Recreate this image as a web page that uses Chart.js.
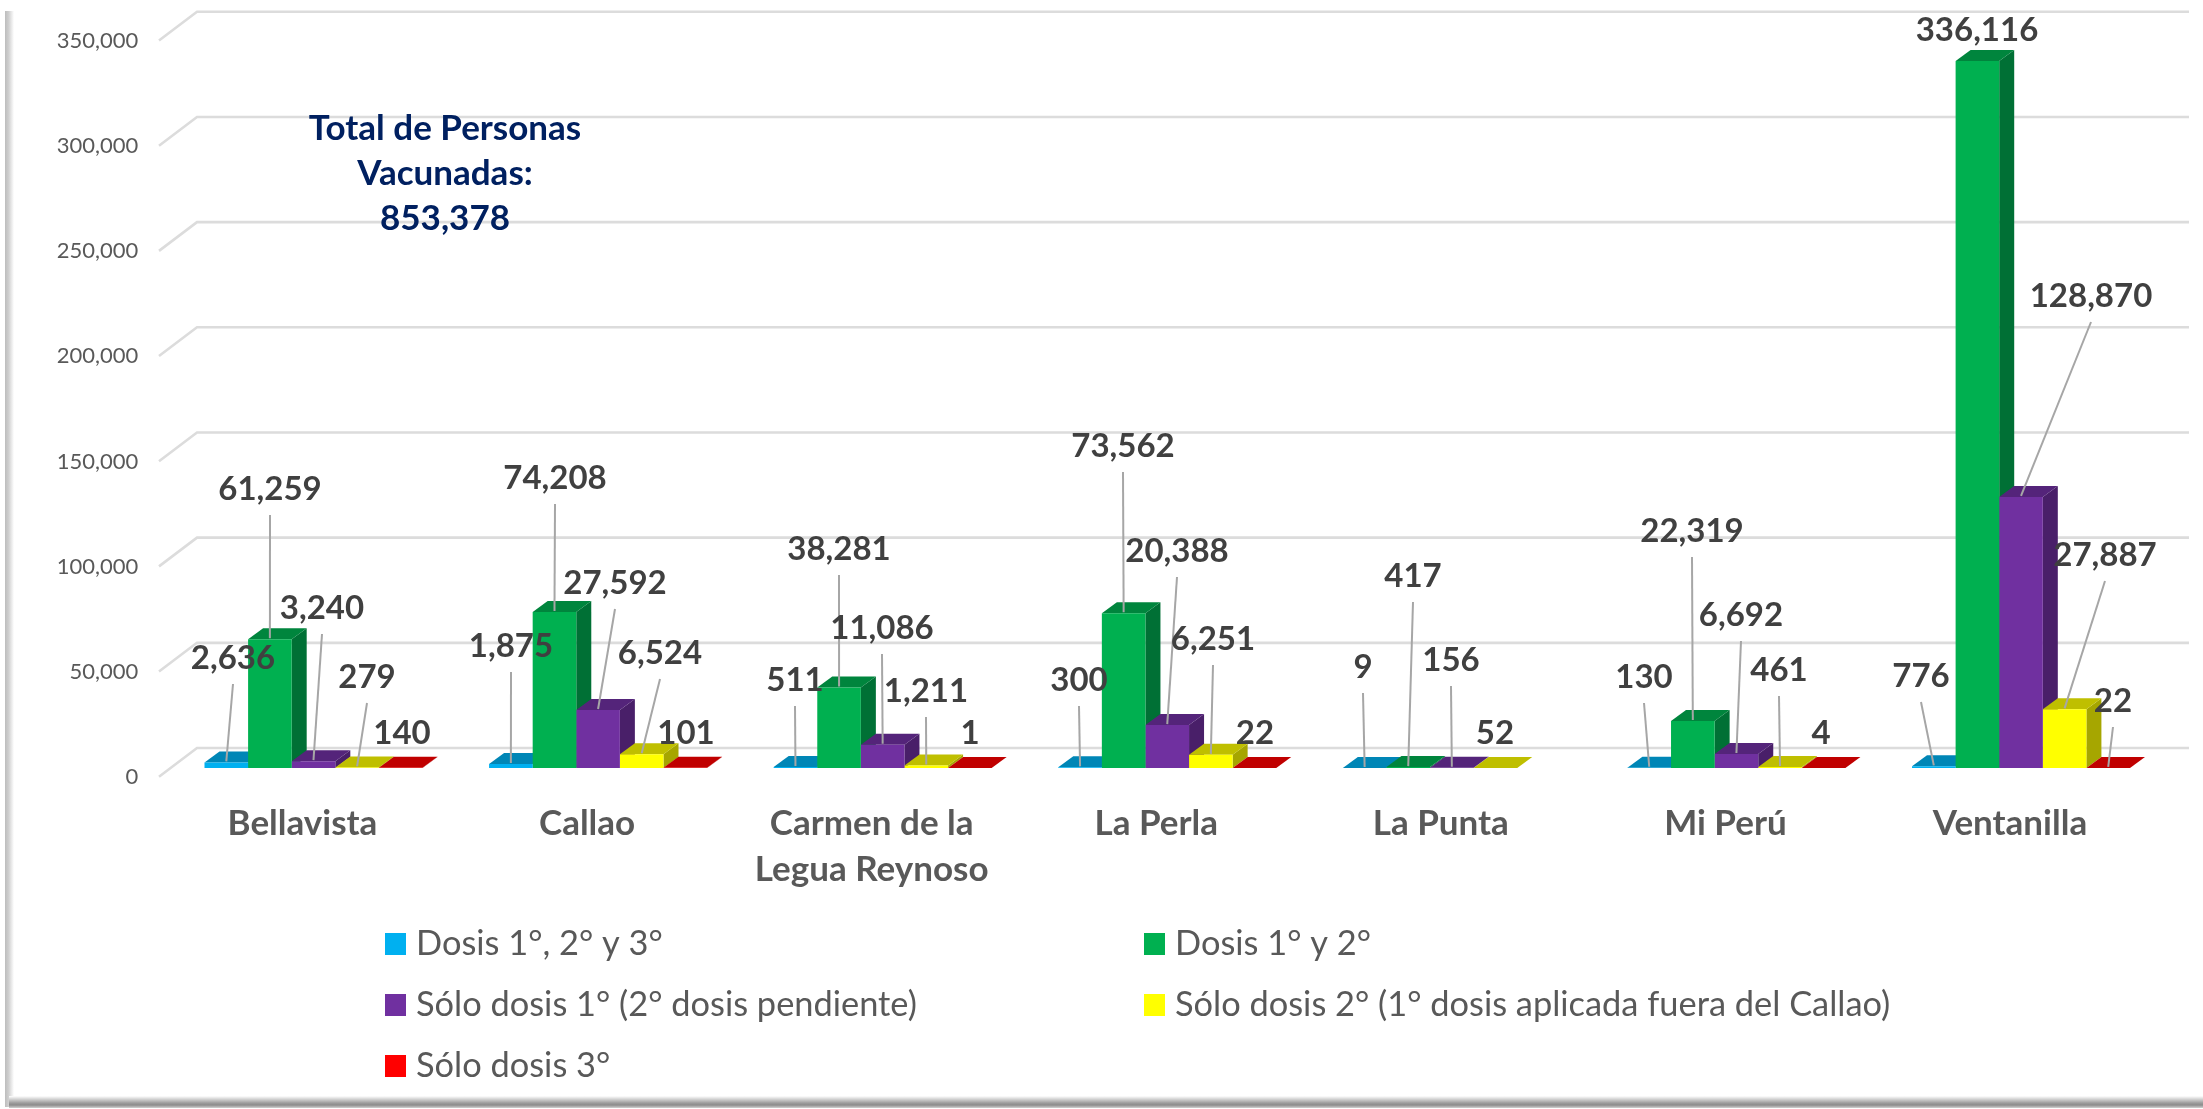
<!DOCTYPE html>
<html>
<head>
<meta charset="utf-8">
<title>Personas vacunadas</title>
<script src="https://cdn.jsdelivr.net/npm/chart.js@4"></script>
<style>
html, body { margin: 0; padding: 0; background: #fff; overflow: hidden; }
canvas { display: block; }
</style>
</head>
<body>
<canvas id="grafico" width="2203" height="1109"></canvas>
<script>
const categorias = ['Bellavista', 'Callao', ['Carmen de la', 'Legua Reynoso'], 'La Perla', 'La Punta', 'Mi Perú', 'Ventanilla'];
const series = ['Dosis 1°, 2° y 3°', 'Dosis 1° y 2°', 'Sólo dosis 1° (2° dosis pendiente)', 'Sólo dosis 2° (1° dosis aplicada fuera del Callao)', 'Sólo dosis 3°'];

const dosis123 = [2636, 1875, 511, 300, 9, 130, 776];
const dosis12 = [61259, 74208, 38281, 73562, 417, 22319, 336116];
const soloDosis1 = [3240, 27592, 11086, 20388, 156, 6692, 128870];
const soloDosis2 = [279, 6524, 1211, 6251, 52, 461, 27887];
const soloDosis3 = [140, 101, 1, 22, null, 4, 22];

const totalTexto = ['Total de Personas', 'Vacunadas:', '853,378'];

// colores: frente, tapa, lado
const colorFrente = ['#00B0F0', '#00B050', '#7030A0', '#FFFF00', '#FF0000'];
const colorTapa = ['#0086B6', '#00853D', '#54247A', '#BFBF00', '#C00000'];
const colorLado = ['#00749E', '#007035', '#491F69', '#A6A600', '#A60000'];

// centro de cada etiqueta, en px de la imagen, [serie][categoria]
const posEtiquetas = [
  [[233, 658], [511, 646], [795, 680], [1079, 680], [1363, 667], [1644, 677], [1921, 676]],
  [[270, 489], [555, 478], [839, 549], [1123, 446], [1413, 576], [1692, 531], [1977, 30]],
  [[322, 608], [615, 583], [882, 628], [1177, 551], [1451, 660], [1741, 615], [2091, 296]],
  [[367, 677], [660, 653], [926, 691], [1213, 639], [1495, 733], [1779, 670], [2105, 555]],
  [[402, 733], [686, 733], [970, 733], [1255, 733], [null, null], [1821, 733], [2113, 701]]
];

const fondoX = 15, fondoY = 11;   // profundidad de cada barra
const rejillaAtras = 20, rejillaFrente = 8.7, rejillaDx = 38;

const fuente = 'Lato, sans-serif';

const datos = [dosis123, dosis12, soloDosis1, soloDosis2, soloDosis3];

const grafico3d = {
  id: 'grafico3d',
  beforeDatasetsDraw(chart) {
    const ctx = chart.ctx;
    const y = chart.scales.y;

    // rejilla
    ctx.save();
    ctx.strokeStyle = '#DCDCDC';
    ctx.lineWidth = 2.6;
    y.ticks.forEach(t => {
      const py = y.getPixelForValue(t.value);
      ctx.beginPath();
      ctx.moveTo(159, py + rejillaFrente);
      ctx.lineTo(159 + rejillaDx, py - rejillaAtras);
      ctx.lineTo(2189, py - rejillaAtras);
      ctx.stroke();
    });
    ctx.restore();

    // marco
    ctx.save();
    let g = ctx.createLinearGradient(5, 0, 14, 0);
    g.addColorStop(0, '#BDBDBD');
    g.addColorStop(0.4, '#CFCFCF');
    g.addColorStop(1, '#FFFFFF');
    ctx.fillStyle = g;
    ctx.fillRect(5, 11, 9, 1096);
    g = ctx.createLinearGradient(0, 1096, 0, 1108);
    g.addColorStop(0, '#FFFFFF');
    g.addColorStop(0.6, '#9A9A9A');
    g.addColorStop(0.75, '#8C8C8C');
    g.addColorStop(1, '#D0D0D0');
    ctx.fillStyle = g;
    ctx.fillRect(9, 1096, 2194, 12);
    ctx.restore();

    // tapa y lado de las barras
    categorias.forEach((c, i) => {
      chart.data.datasets.forEach((ds, s) => {
        if (ds.data[i] === null) return;
        const b = chart.getDatasetMeta(s).data[i];
        const iz = b.x - b.width / 2, de = b.x + b.width / 2, top = b.y, base = b.base;
        ctx.fillStyle = colorLado[s];
        ctx.beginPath();
        ctx.moveTo(de, top);
        ctx.lineTo(de + fondoX, top - fondoY);
        ctx.lineTo(de + fondoX, base - fondoY);
        ctx.lineTo(de, base);
        ctx.closePath();
        ctx.fill();
        ctx.fillStyle = colorTapa[s];
        ctx.beginPath();
        ctx.moveTo(iz, top);
        ctx.lineTo(iz + fondoX, top - fondoY);
        ctx.lineTo(de + fondoX, top - fondoY);
        ctx.lineTo(de, top);
        ctx.closePath();
        ctx.fill();
      });
    });
  },
  afterDatasetsDraw(chart) {
    const ctx = chart.ctx;
    ctx.save();
    ctx.textAlign = 'center';
    ctx.textBaseline = 'middle';

    // lineas guia y etiquetas
    chart.data.datasets.forEach((ds, s) => {
      ds.data.forEach((v, i) => {
        if (v === null) return;
        const b = chart.getDatasetMeta(s).data[i];
        const [lx, ly] = posEtiquetas[s][i];
        const finY = b.y - 1;
        if (finY - ly - 14 > 22) {
          ctx.strokeStyle = '#A6A6A6';
          ctx.lineWidth = 2;
          ctx.beginPath();
          ctx.moveTo(lx, ly + 26);
          ctx.lineTo(b.x, finY);
          ctx.stroke();
        }
      });
    });
    ctx.fillStyle = '#404040';
    ctx.font = 'bold 33px ' + fuente;
    chart.data.datasets.forEach((ds, s) => {
      ds.data.forEach((v, i) => {
        if (v === null) return;
        const [lx, ly] = posEtiquetas[s][i];
        ctx.fillText(v.toLocaleString('en-US'), lx, ly);
      });
    });

    // total
    ctx.fillStyle = '#002060';
    ctx.font = 'bold 35px ' + fuente;
    totalTexto.forEach((t, n) => ctx.fillText(t, 445, 129 + n * 45));

    // leyenda en dos columnas
    ctx.textAlign = 'left';
    ctx.font = '34.4px ' + fuente;
    series.forEach((nombre, s) => {
      const x = s % 2 === 0 ? 385 : 1144;
      const yc = 944 + Math.floor(s / 2) * 61;
      ctx.fillStyle = colorFrente[s];
      ctx.fillRect(x, yc - 11, 21, 22);
      ctx.fillStyle = '#595959';
      ctx.fillText(nombre, x + 31, yc);
    });
    ctx.restore();
  }
};

new Chart(document.getElementById('grafico'), {
  type: 'bar',
  data: {
    labels: categorias,
    datasets: series.map((nombre, s) => ({
      label: nombre,
      data: datos[s],
      backgroundColor: colorFrente[s],
      borderWidth: 0,
      categoryPercentage: 0.766,
      barPercentage: 1
    }))
  },
  options: {
    responsive: false,
    animation: false,
    layout: { padding: { top: 31.8, right: 39.7, left: 0, bottom: 0 } },
    plugins: {
      legend: { display: false },
      tooltip: { enabled: false }
    },
    scales: {
      x: {
        grid: { display: false },
        border: { display: false },
        afterFit(s) { s.height = 341; },
        ticks: {
          color: '#595959',
          font: { family: fuente, size: 35, weight: 'bold', lineHeight: 1.31 },
          padding: 25,
          labelOffset: -11,
          maxRotation: 0,
          autoSkip: false
        }
      },
      y: {
        min: 0,
        max: 350000,
        grid: { display: false, drawTicks: false },
        border: { display: false },
        afterFit(s) { s.width = 171.2; s.paddingTop = 0; s.paddingBottom = 0; },
        ticks: {
          stepSize: 50000,
          color: '#595959',
          font: { family: fuente, size: 22 },
          padding: 33,
          labelOffset: 9,
          callback: v => v.toLocaleString('en-US')
        }
      }
    }
  },
  plugins: [grafico3d]
});
</script>
</body>
</html>
